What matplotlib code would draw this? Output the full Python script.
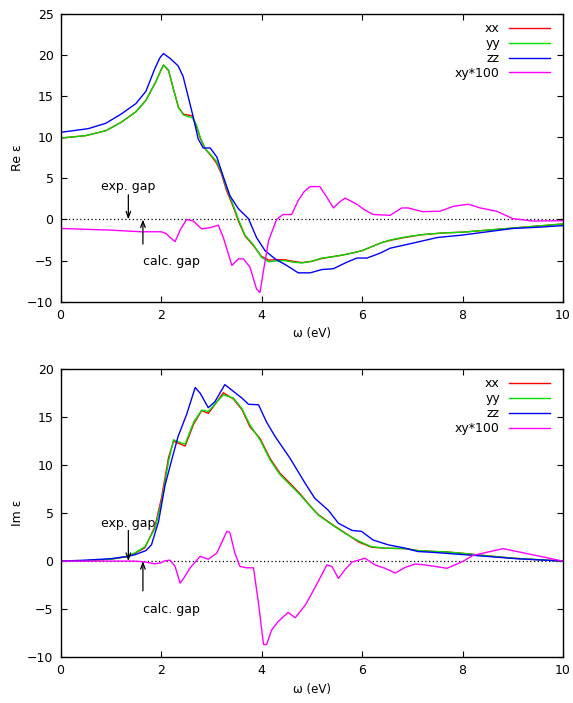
import numpy as np
import matplotlib
matplotlib.use("Agg")
import matplotlib.pyplot as plt

# ---- Re eps (upper panel) ----
re_x_xx = [0, 0.5, 0.9, 1.2, 1.5, 1.7, 1.9, 2.0, 2.05, 2.15, 2.25, 2.35, 2.45, 2.55, 2.62, 2.7,
           2.78, 2.88, 3.0, 3.1, 3.2, 3.3, 3.44, 3.54, 3.67, 3.84, 4.0, 4.14, 4.3, 4.45, 4.63,
           4.8, 5.0, 5.2, 5.4, 5.6, 5.8, 6.0, 6.2, 6.4, 6.6, 6.8, 7.0, 7.2, 7.4, 7.6, 8.0, 8.4,
           8.8, 9.2, 9.6, 10.0]
re_xx = [9.9, 10.2, 10.8, 11.8, 13.1, 14.5, 16.8, 18.2, 18.8, 18.1, 15.8, 13.6, 12.8, 12.7,
         12.6, 11.4, 9.9, 8.6, 7.7, 6.9, 5.6, 3.6, 1.5, -0.2, -2.0, -3.2, -4.5, -4.95, -4.9,
         -4.9, -5.1, -5.25, -5.1, -4.75, -4.55, -4.35, -4.1, -3.8, -3.3, -2.8, -2.5, -2.25,
         -2.05, -1.85, -1.75, -1.65, -1.55, -1.35, -1.15, -0.95, -0.75, -0.55]
re_yy = [9.9, 10.2, 10.8, 11.8, 13.1, 14.5, 16.8, 18.2, 18.8, 18.2, 15.8, 13.6, 12.7, 12.5,
         12.4, 11.6, 10.0, 8.6, 7.8, 7.1, 5.8, 3.9, 1.7, 0.0, -1.9, -3.1, -4.6, -5.15, -5.05,
         -5.0, -5.2, -5.3, -5.1, -4.7, -4.55, -4.35, -4.1, -3.8, -3.3, -2.8, -2.45, -2.2,
         -2.0, -1.85, -1.75, -1.65, -1.55, -1.35, -1.15, -0.95, -0.75, -0.55]

re_x_zz = [0, 0.55, 0.9, 1.2, 1.5, 1.7, 1.88, 1.98, 2.05, 2.18, 2.34, 2.44, 2.51, 2.64, 2.74,
           2.84, 2.98, 3.11, 3.24, 3.37, 3.54, 3.74, 3.9, 4.07, 4.27, 4.5, 4.73, 4.97, 5.2,
           5.43, 5.7, 5.9, 6.1, 6.36, 6.56, 7.0, 7.5, 8.0, 8.5, 9.0, 9.5, 10.0]
re_zz = [10.6, 11.05, 11.7, 12.8, 14.1, 15.6, 18.4, 19.7, 20.2, 19.6, 18.7, 17.4, 15.7, 12.5,
         9.8, 8.7, 8.7, 7.6, 5.2, 2.9, 1.3, 0.1, -2.2, -3.8, -4.8, -5.6, -6.5, -6.5, -6.1,
         -6.0, -5.2, -4.7, -4.7, -4.1, -3.5, -2.9, -2.2, -1.9, -1.5, -1.1, -0.95, -0.75]

re_x_xy = [0, 1.0, 1.6, 2.0, 2.1, 2.2, 2.28, 2.38, 2.51, 2.64, 2.81, 2.98, 3.14, 3.24, 3.41,
           3.54, 3.64, 3.77, 3.9, 3.97, 4.04, 4.14, 4.3, 4.43, 4.6, 4.73, 4.85, 4.97, 5.16,
           5.3, 5.43, 5.55, 5.66, 5.9, 6.03, 6.22, 6.56, 6.79, 6.92, 7.2, 7.55, 7.82, 8.12,
           8.35, 8.68, 9.0, 9.41, 10.0]
re_xy = [-1.1, -1.3, -1.5, -1.5, -1.7, -2.3, -2.7, -1.3, 0.0, -0.2, -1.15, -1.0, -0.7, -2.2,
         -5.6, -4.8, -4.8, -5.8, -8.45, -8.9, -6.2, -2.6, 0.0, 0.6, 0.6, 2.3, 3.4, 4.0, 4.0,
         2.7, 1.4, 2.1, 2.6, 1.85, 1.25, 0.6, 0.5, 1.4, 1.4, 0.95, 1.0, 1.6, 1.85, 1.4, 1.0,
         0.1, -0.2, -0.15]

# ---- Im eps (lower panel) ----
im_x_xx = [0, 0.5, 1.0, 1.3, 1.48, 1.68, 1.88, 2.01, 2.15, 2.25, 2.34, 2.48, 2.65, 2.81, 2.94,
           3.07, 3.24, 3.44, 3.61, 3.77, 3.97, 4.17, 4.37, 4.57, 4.77, 4.97, 5.13, 5.4, 5.66,
           5.93, 6.19, 6.46, 6.86, 7.11, 7.45, 7.7, 8.02, 8.5, 9.01, 9.5, 10.0]
im_xx = [0, 0.05, 0.2, 0.45, 0.8, 1.4, 3.6, 6.6, 10.8, 12.5, 12.3, 12.0, 14.3, 15.7, 15.4,
         16.3, 17.55, 16.9, 15.8, 14.0, 12.8, 10.7, 9.15, 8.1, 7.0, 5.75, 4.85, 3.85, 2.95,
         2.0, 1.45, 1.35, 1.3, 1.1, 1.0, 0.95, 0.8, 0.55, 0.3, 0.15, 0.0]
im_yy = [0, 0.05, 0.2, 0.45, 0.85, 1.5, 3.4, 6.2, 10.4, 12.65, 12.45, 12.2, 14.5, 15.75, 15.6,
         16.35, 17.35, 17.0, 15.9, 14.2, 12.65, 10.55, 9.0, 7.95, 6.9, 5.7, 4.8, 3.8, 2.9,
         2.1, 1.5, 1.35, 1.3, 1.1, 1.0, 0.95, 0.8, 0.55, 0.3, 0.15, 0.0]

im_x_zz = [0, 0.5, 1.0, 1.35, 1.5, 1.7, 1.81, 1.95, 2.08, 2.21, 2.34, 2.51, 2.68, 2.78, 2.94,
           3.07, 3.27, 3.44, 3.61, 3.74, 3.94, 4.1, 4.27, 4.57, 4.87, 5.06, 5.33, 5.53, 5.8,
           5.99, 6.22, 6.52, 6.86, 7.11, 7.45, 8.21, 9.08, 10.0]
im_zz = [0, 0.1, 0.25, 0.5, 0.7, 1.1, 1.7, 4.1, 7.9, 10.5, 13.0, 15.3, 18.1, 17.5, 16.0,
         16.6, 18.4, 17.7, 17.0, 16.35, 16.3, 14.5, 13.0, 10.7, 8.1, 6.55, 5.3, 3.95, 3.2,
         3.1, 2.2, 1.7, 1.35, 1.0, 0.9, 0.6, 0.25, 0.0]

im_x_xy = [0, 1.0, 1.5, 1.68, 1.88, 1.98, 2.08, 2.18, 2.28, 2.38, 2.45, 2.58, 2.78, 2.94,
           3.11, 3.31, 3.37, 3.47, 3.57, 3.7, 3.84, 3.94, 4.04, 4.1, 4.2, 4.33, 4.53, 4.67,
           4.87, 5.06, 5.3, 5.4, 5.53, 5.66, 5.8, 6.06, 6.26, 6.46, 6.66, 6.86, 7.06, 7.25,
           7.45, 7.69, 8.02, 8.21, 8.81, 10.0]
im_xy = [0, 0, 0, -0.1, -0.28, -0.2, 0.03, 0.1, -0.55, -2.3, -1.8, -0.7, 0.5, 0.2, 0.83,
         3.1, 3.0, 0.83, -0.55, -0.7, -0.7, -4.4, -8.7, -8.7, -7.2, -6.3, -5.35, -5.9, -4.6,
         -2.8, -0.4, -0.55, -1.8, -0.9, -0.1, 0.3, -0.4, -0.75, -1.25, -0.65, -0.3, -0.4,
         -0.55, -0.75, 0.0, 0.6, 1.3, 0.0]

labels = ["xx", "yy", "zz", "xy*100"]
colors = ["#ff0000", "#00dd00", "#0000ff", "#ff00ff"]
exp_gap = 1.35
calc_gap = 1.64

plt.rcParams['font.family'] = ['DejaVu Sans']
plt.rcParams['font.size'] = 9

fig = plt.figure(figsize=(5.73, 7.03), dpi=100)
ax1 = fig.add_axes([0.1056, 0.571, 0.877, 0.409])
ax2 = fig.add_axes([0.1056, 0.0654, 0.877, 0.4093])


def style_axes(ax, ylo, yhi, ylabel):
    ax.set_xlim(0, 10)
    ax.set_ylim(ylo, yhi)
    ax.set_xticks(np.arange(0, 11, 2))
    ax.set_yticks(np.arange(ylo, yhi + 1, 5))
    ax.tick_params(direction='in', length=4, width=0.8, top=True, right=True,
                   labelsize=9, pad=5)
    for s in ax.spines.values():
        s.set_linewidth(1.0)
    ax.axhline(0, color='black', lw=0.9, ls=(0, (1, 2)), zorder=1)
    ax.set_ylabel(ylabel, fontsize=9, labelpad=2)
    ax.set_xlabel("ω (eV)", fontsize=8.5, labelpad=4)


def draw(ax, xs, ys):
    for x, y, lab, c in zip(xs, ys, labels, colors):
        ax.plot(x, y, color=c, lw=1.0, label=lab, zorder=2)
    leg = ax.legend(loc='upper right', frameon=False, markerfirst=False, fontsize=9,
                    handlelength=3.3, handletextpad=0.7, labelspacing=0.15,
                    borderaxespad=0.25, bbox_to_anchor=(0.99, 1.0))
    for t in leg.get_texts():
        t.set_ha('right')


def gaps(ax, ytext_exp, ytext_calc, top_exp, bot_calc):
    ap = dict(arrowstyle='->,head_length=0.5,head_width=0.18', lw=0.9, color='black',
              shrinkA=0, shrinkB=0)
    ax.annotate("", xy=(exp_gap, 0), xytext=(exp_gap, top_exp), arrowprops=ap)
    ax.annotate("", xy=(calc_gap, 0), xytext=(calc_gap, bot_calc), arrowprops=ap)
    ax.text(exp_gap, ytext_exp, "exp. gap", ha='center', va='center', fontsize=9)
    ax.text(2.2, ytext_calc, "calc. gap", ha='center', va='center', fontsize=9)


draw(ax1, [re_x_xx, re_x_xx, re_x_zz, re_x_xy], [re_xx, re_yy, re_zz, re_xy])
style_axes(ax1, -10, 25, "Re ε")
gaps(ax1, 4.0, -5.1, 3.0, -3.0)

draw(ax2, [im_x_xx, im_x_xx, im_x_zz, im_x_xy], [im_xx, im_yy, im_zz, im_xy])
style_axes(ax2, -10, 20, "Im ε")
gaps(ax2, 3.9, -5.0, 3.2, -3.1)

fig.savefig("out.png", dpi=100)
